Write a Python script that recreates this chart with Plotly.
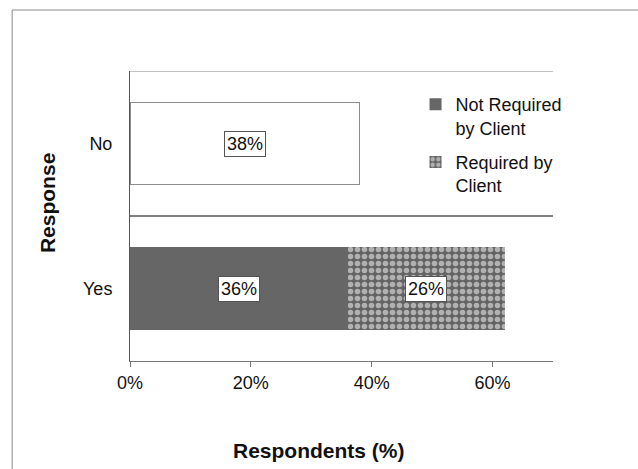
import plotly.graph_objects as go

# Survey responses (percent of respondents)
categories = ["Yes", "No"]
no_response = [None, 38]            # single "No" bar
not_required = [36, None]           # "Yes" split: not required by client
required = [26, None]               # "Yes" split: required by client
x_ticks = [0, 20, 40, 60]
x_tick_labels = ["0%", "20%", "40%", "60%"]

FONT = "Arial, Liberation Sans, sans-serif"

fig = go.Figure()

fig.add_trace(go.Bar(
    y=categories, x=no_response, orientation="h", name="No",
    marker=dict(color="white", line=dict(color="#8c8c8c", width=1)),
    showlegend=False, hoverinfo="skip",
))
fig.add_trace(go.Bar(
    y=categories, x=not_required, orientation="h", name="Not Required<br>by Client",
    legendgroup="a",
    marker=dict(color="#666666", line=dict(width=0)),
))
fig.add_trace(go.Bar(
    y=categories, x=required, orientation="h", name="Required by<br>Client",
    legendgroup="b",
    marker=dict(
        color="#636363", line=dict(width=0),
        pattern=dict(shape=".", fgcolor="#ffffff", bgcolor="#636363",
                     size=7, solidity=0.5),
    ),
))

# Value labels in boxes, centred on each segment
annotations = []
for series in (no_response, not_required):
    for cat, v in zip(categories, series):
        if v is not None:
            annotations.append(dict(x=v / 2, y=cat, text=f"{v}%"))
for cat, base, v in zip(categories, not_required, required):
    if v is not None:
        annotations.append(dict(x=base + v / 2, y=cat, text=f"{v}%"))
for a in annotations:
    a.update(xref="x", yref="y", showarrow=False,
             font=dict(family=FONT, size=18, color="#111111"),
             bgcolor="white", bordercolor="#555555", borderwidth=1, borderpad=2)

# Axis titles
annotations.append(dict(text="<b>Respondents (%)</b>", xref="paper", yref="paper",
                        x=0.446, y=-0.307, xanchor="center", yanchor="middle",
                        showarrow=False,
                        font=dict(family=FONT, size=21, color="#111111")))
annotations.append(dict(text="<b>Response</b>", xref="paper", yref="paper",
                        x=-0.1936, y=0.545, xanchor="center", yanchor="middle",
                        textangle=-90, showarrow=False,
                        font=dict(family=FONT, size=21, color="#111111")))

shapes = [
    # outer chart frame
    dict(type="rect", xref="paper", yref="paper", x0=-0.2786, x1=1.4, y0=-0.6, y1=1.2103,
         line=dict(color="#8a8a8a", width=1), fillcolor="rgba(0,0,0,0)", layer="below"),
    # category separators
    dict(type="line", xref="paper", yref="y", x0=0, x1=1, y0=1.5, y1=1.5,
         line=dict(color="#888888", width=1)),
    dict(type="line", xref="paper", yref="y", x0=0, x1=1, y0=0.5, y1=0.5,
         line=dict(color="#000000", width=1)),
]

fig.update_layout(
    width=638, height=469,
    margin=dict(l=130, r=84.5, t=71, b=108),
    paper_bgcolor="white", plot_bgcolor="white",
    barmode="stack", bargap=0.43,
    font=dict(family=FONT, size=18, color="#111111"),
    xaxis=dict(range=[0, 70], tickvals=x_ticks, ticktext=x_tick_labels,
               showgrid=False, zeroline=False, showline=True, linecolor="#777777",
               linewidth=1, ticks="outside", ticklen=5, tickcolor="#777777",
               tickfont=dict(size=18)),
    yaxis=dict(range=[-0.5, 1.5], showgrid=False, zeroline=False, showline=True,
               linecolor="#555555", linewidth=1, ticks="", ticklabelstandoff=13,
               tickfont=dict(size=18)),
    legend=dict(x=0.675, y=0.948, xanchor="left", yanchor="top",
                font=dict(size=18), valign="top", traceorder="grouped",
                tracegroupgap=8, bgcolor="rgba(0,0,0,0)"),
    annotations=annotations,
    shapes=shapes,
)

fig.write_html("out.html")
